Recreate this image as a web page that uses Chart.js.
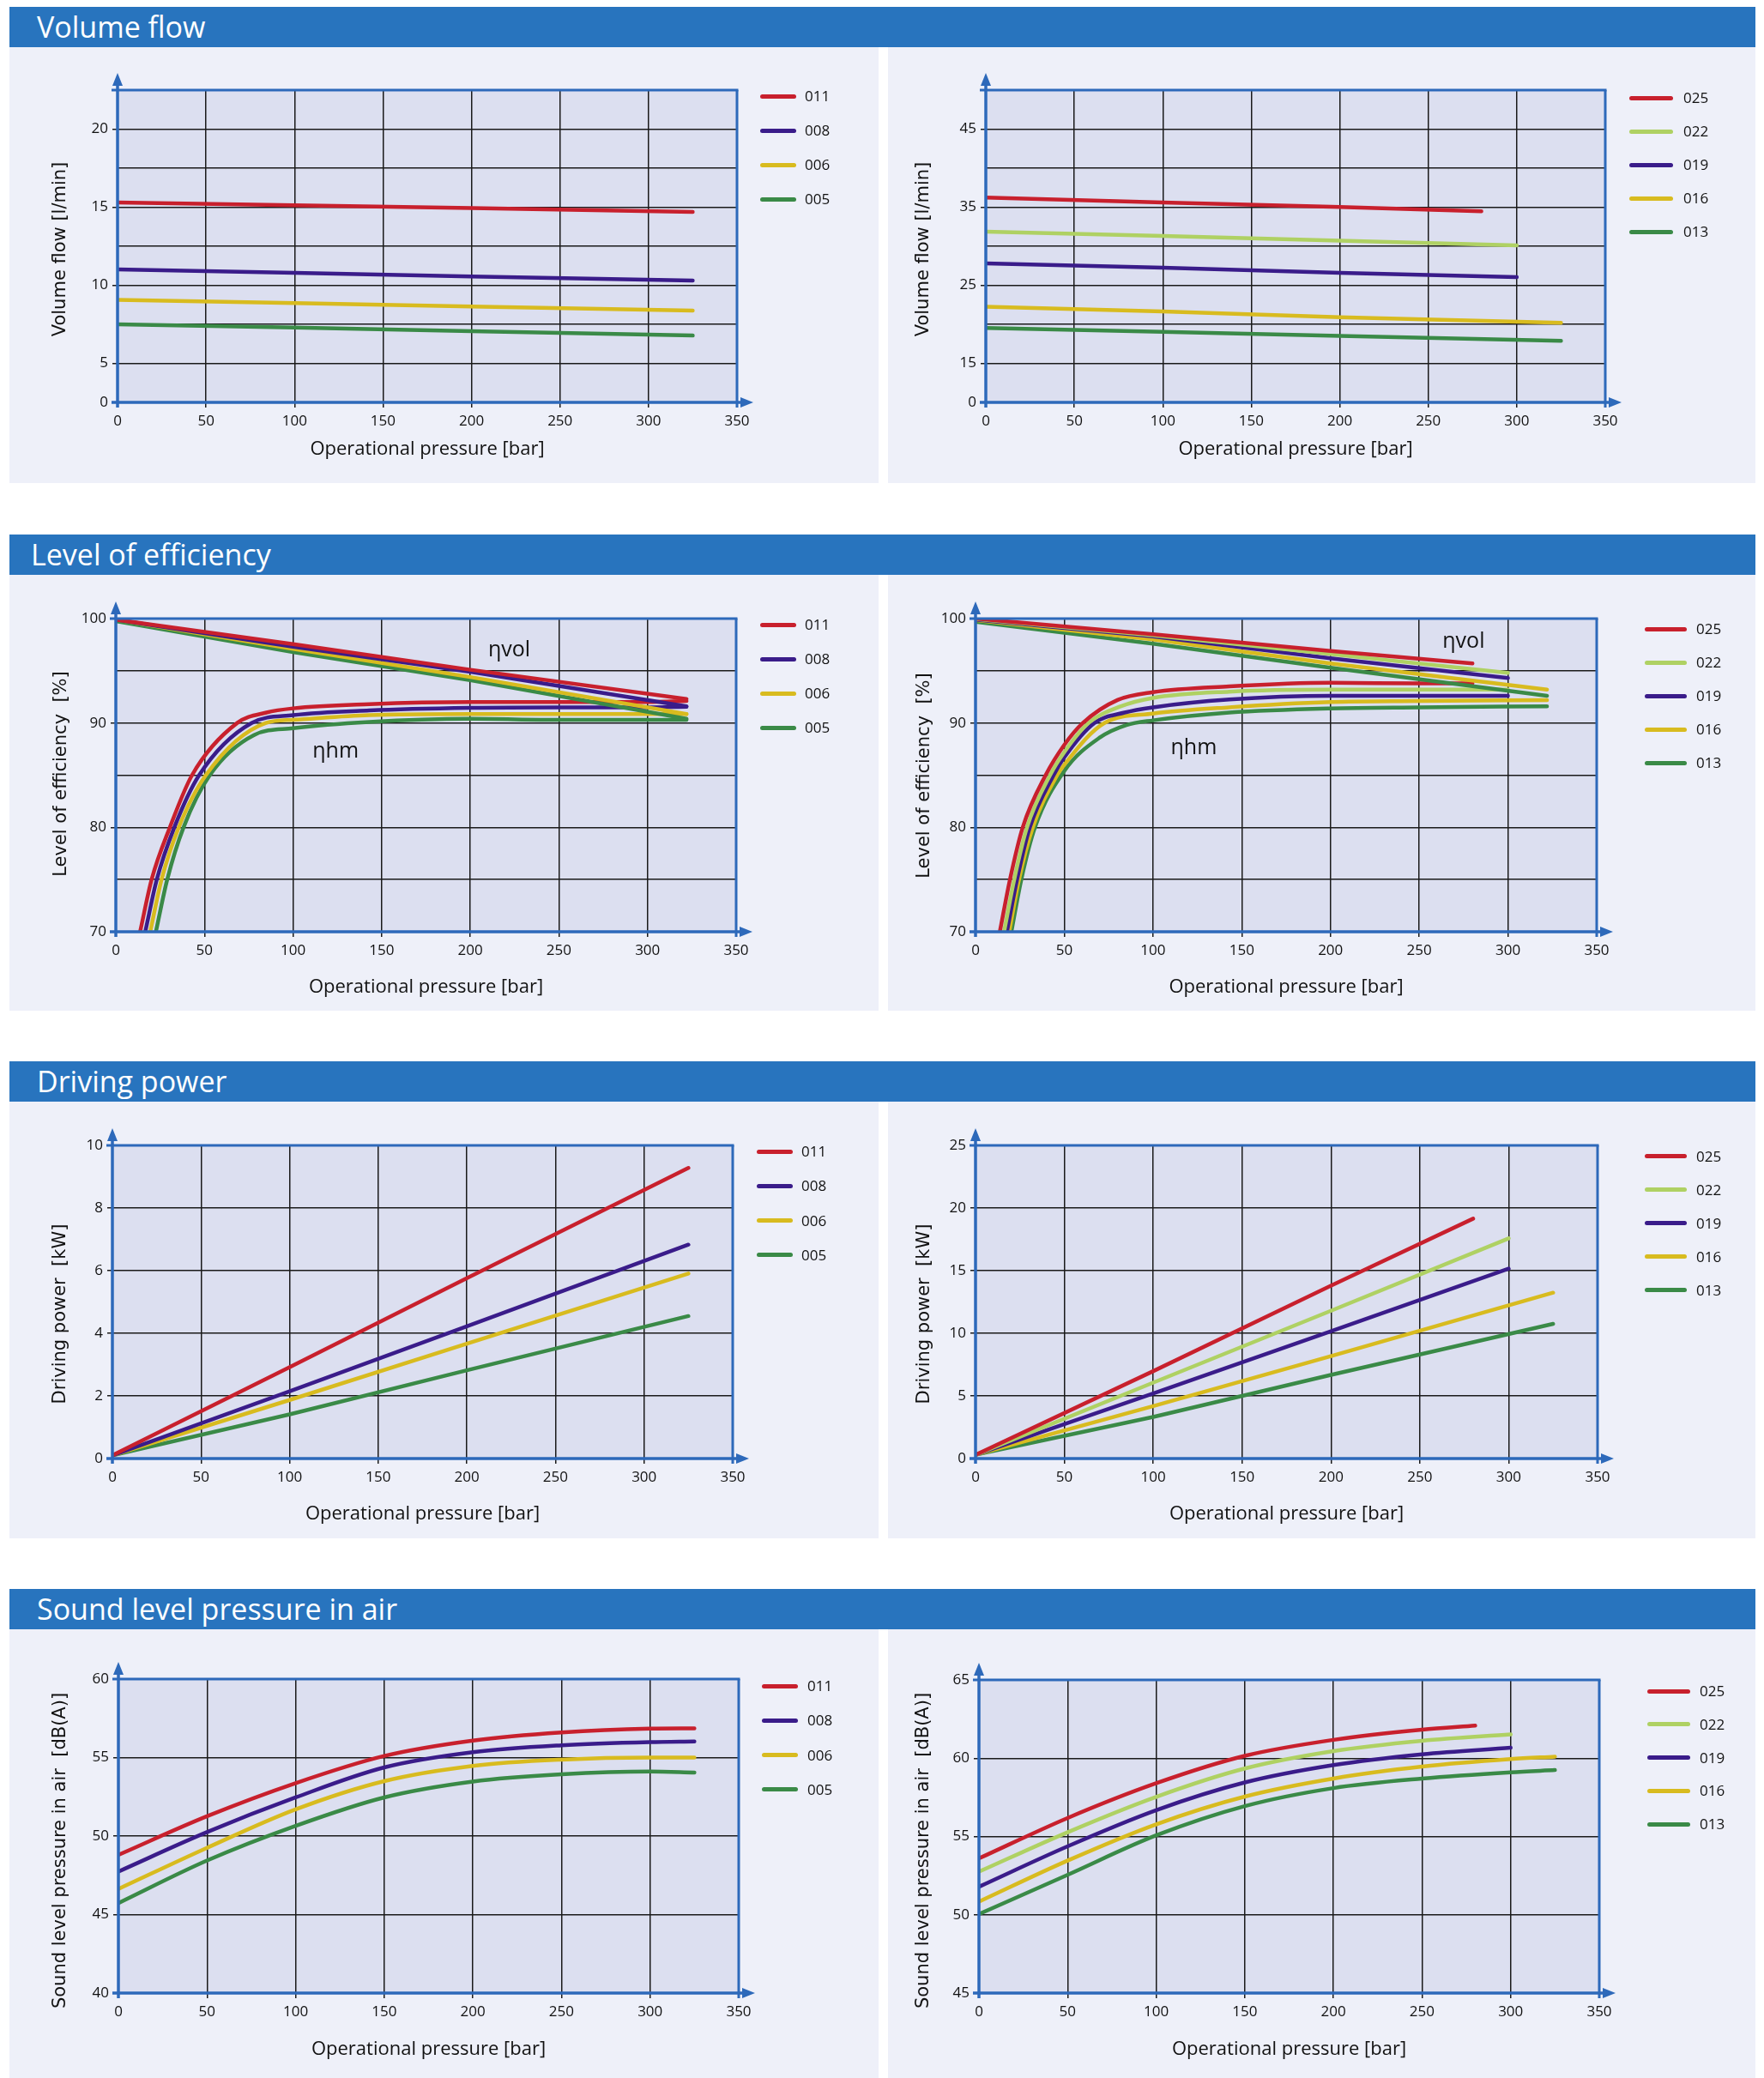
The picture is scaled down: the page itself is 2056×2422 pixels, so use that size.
<!DOCTYPE html>
<html><head><meta charset="utf-8">
<script src="https://cdn.jsdelivr.net/npm/chart.js@4.4.1/dist/chart.umd.min.js"></script>
<style>
html,body{margin:0;padding:0;background:#fff;}
body{width:2056px;height:2422px;position:relative;overflow:hidden;font-family:'Open Sans',sans-serif;}
.hdr{position:absolute;left:11px;width:2035px;height:47px;background:#2874BE;color:#fff;font-size:34px;line-height:47px;box-sizing:border-box;white-space:nowrap;}
.panel{position:absolute;background:#EEF0F9;}
.panel canvas{position:absolute;left:0;top:0;}
.sw{position:absolute;height:5px;border-radius:3px;}
.lt{position:absolute;height:24px;line-height:24px;font-size:17px;color:#111;font-family:'Open Sans',sans-serif;}
</style></head><body>
<script>
// ---------- DATA ----------
const pressureTicks = [0, 50, 100, 150, 200, 250, 300, 350];
const modelsSmall = ['011', '008', '006', '005'];
const modelsLarge = ['025', '022', '019', '016', '013'];
const sectionTitles = ['Volume flow', 'Level of efficiency', 'Driving power', 'Sound level pressure in air'];
const xTitle = 'Operational pressure [bar]';
const yTitles = ['Volume flow [l/min]', 'Level of efficiency  [%]', 'Driving power  [kW]', 'Sound level pressure in air  [dB(A)]'];

// Volume flow [l/min]
const vfSmallYTicks = [2.5, 5, 7.5, 10, 12.5, 15, 17.5, 20, 22.5];
const vfSmallYLabels = ['0', '5', '', '10', '', '15', '', '20', ''];
const vfLargeYTicks = [10, 15, 20, 25, 30, 35, 40, 45, 50];
const vfLargeYLabels = ['0', '15', '', '25', '', '35', '', '45', ''];
const vfSmallX = [0, 100, 200, 325];
const vf011 = [15.3, 15.12, 14.94, 14.7];
const vf008 = [11.02, 10.8, 10.56, 10.3];
const vf006 = [9.06, 8.86, 8.64, 8.38];
const vf005 = [7.5, 7.3, 7.06, 6.78];
const vf025X = [0, 100, 200, 280];
const vf025 = [36.24, 35.6, 35.04, 34.48];
const vf022X = [0, 100, 200, 300];
const vf022 = [31.88, 31.32, 30.72, 30.12];
const vf019X = [0, 100, 200, 300];
const vf019 = [27.8, 27.24, 26.6, 26.04];
const vf016X = [0, 100, 200, 325];
const vf016 = [22.24, 21.64, 20.92, 20.2];
const vf013X = [0, 100, 200, 325];
const vf013 = [19.52, 19.04, 18.52, 17.88];

// Level of efficiency [%]
const effYTicks = [70, 75, 80, 85, 90, 95, 100];
const effYLabels = ['70', '', '80', '', '90', '', '100'];
const effVolSmallX = [0, 100, 200, 322];
const effVol011 = [99.9, 97.55, 95.1, 92.3];
const effVol008 = [99.9, 97.3, 94.9, 91.6];
const effVol006 = [99.9, 97.1, 94.4, 90.85];
const effVol005 = [99.75, 96.8, 94.1, 90.4];
const effHm011X = [13.7, 20.2, 30.5, 43, 68.5, 85, 100, 143, 200, 250, 300, 322];
const effHm011 = [70, 75, 80, 85, 90, 91.0, 91.4, 91.8, 92.0, 92.0, 92.0, 92.1];
const effHm008X = [16.6, 23.1, 33, 47, 76.6, 100, 143, 200, 250, 300, 322];
const effHm008 = [70, 75, 80, 85, 90, 90.75, 91.2, 91.45, 91.5, 91.5, 91.55];
const effHm006X = [19.4, 25.8, 35.5, 50.8, 84.7, 100, 143, 200, 250, 300, 322];
const effHm006 = [70, 75, 80, 85, 90, 90.3, 90.75, 90.85, 90.85, 90.85, 90.85];
const effHm005X = [22.6, 29, 38.2, 53, 78, 100, 143, 200, 250, 300, 322];
const effHm005 = [70, 75, 80, 85, 88.85, 89.5, 90.1, 90.4, 90.3, 90.3, 90.3];

const effVol025X = [0, 100, 200, 280];
const effVol025 = [100, 98.5, 96.9, 95.7];
const effVol022X = [0, 100, 200, 300];
const effVol022 = [99.95, 98.4, 96.6, 94.8];
const effVol019X = [0, 100, 200, 300];
const effVol019 = [99.9, 98.3, 96.2, 94.3];
const effVol016X = [0, 100, 200, 322];
const effVol016 = [99.85, 98.0, 95.7, 93.2];
const effVol013X = [0, 100, 200, 322];
const effVol013 = [99.7, 97.6, 95.3, 92.6];
const effHm025X = [13.7, 19.4, 26.6, 39.5, 50, 60.5, 80, 100, 143, 200, 250, 280];
const effHm025 = [70, 75, 80, 85, 87.9, 90, 92.2, 92.95, 93.5, 93.85, 93.8, 93.8];
const effHm022X = [16.1, 21.8, 29, 42, 50, 63.7, 82, 100, 143, 200, 250, 300];
const effHm022 = [70, 75, 80, 85, 87.2, 90, 91.6, 92.4, 93.0, 93.2, 93.2, 93.2];
const effHm019X = [17.7, 23.4, 30.6, 44, 50, 67, 84, 100, 143, 200, 250, 300];
const effHm019 = [70, 75, 80, 85, 86.7, 90, 91.0, 91.5, 92.25, 92.6, 92.6, 92.6];
const effHm016X = [19, 24.5, 32.3, 46, 50, 72.6, 100, 143, 200, 250, 322];
const effHm016 = [70, 75, 80, 85, 86.0, 90, 90.9, 91.5, 92.0, 92.1, 92.2];
const effHm013X = [20.2, 25.8, 33.5, 50, 70, 85, 100, 143, 200, 250, 322];
const effHm013 = [70, 75, 80, 85.4, 88.6, 89.8, 90.25, 91.0, 91.4, 91.5, 91.6];
const effNotesSmall = [['ηvol', 222, 97.0], ['ηhm', 124, 87.3]];
const effNotesLarge = [['ηvol', 275, 97.8], ['ηhm', 123, 87.6]];

// Driving power [kW]
const dpSmallYTicks = [0, 2, 4, 6, 8, 10];
const dpLargeYTicks = [0, 5, 10, 15, 20, 25];
const dpSmallX = [0, 100, 200, 325];
const dp011 = [0.1, 2.92, 5.76, 9.28];
const dp008 = [0.1, 2.15, 4.22, 6.83];
const dp006 = [0.1, 1.87, 3.67, 5.91];
const dp005 = [0.1, 1.41, 2.82, 4.55];
const dp025X = [0, 100, 200, 280];
const dp025 = [0.3, 6.98, 13.8, 19.15];
const dp022X = [0, 100, 200, 300];
const dp022 = [0.3, 6.06, 11.8, 17.58];
const dp019X = [0, 100, 200, 300];
const dp019 = [0.3, 5.19, 10.17, 15.16];
const dp016X = [0, 100, 200, 325];
const dp016 = [0.3, 4.19, 8.18, 13.24];
const dp013X = [0, 100, 200, 325];
const dp013 = [0.3, 3.32, 6.68, 10.75];

// Sound level pressure in air [dB(A)]
const slSmallYTicks = [40, 45, 50, 55, 60];
const slLargeYTicks = [45, 50, 55, 60, 65];
const slSmallX = [0, 50, 100, 150, 200, 250, 300, 325];
const sl011 = [48.8, 51.26, 53.37, 55.1, 56.08, 56.6, 56.84, 56.86];
const sl008 = [47.74, 50.25, 52.46, 54.37, 55.34, 55.78, 55.98, 56.02];
const sl006 = [46.63, 49.25, 51.7, 53.5, 54.47, 54.87, 55.0, 55.0];
const sl005 = [45.73, 48.44, 50.65, 52.46, 53.47, 53.93, 54.11, 54.05];
const sl025X = [0, 50, 100, 150, 200, 250, 280];
const sl025 = [53.6, 56.18, 58.4, 60.15, 61.17, 61.82, 62.08];
const sl022X = [0, 50, 100, 150, 200, 250, 300];
const sl022 = [52.75, 55.27, 57.53, 59.34, 60.45, 61.11, 61.52];
const sl019X = [0, 50, 100, 150, 200, 250, 300];
const sl019 = [51.79, 54.37, 56.68, 58.45, 59.56, 60.25, 60.67];
const sl016X = [0, 50, 100, 150, 200, 250, 300, 325];
const sl016 = [50.84, 53.46, 55.78, 57.55, 58.7, 59.46, 59.94, 60.1];
const sl013X = [0, 50, 100, 150, 200, 250, 300, 325];
const sl013 = [50.04, 52.55, 55.07, 56.94, 58.09, 58.7, 59.1, 59.24];

// ---------- STYLE ----------
const SERIES_COLOR = {'011':'#C8202D','025':'#C8202D','008':'#3A1C8A','019':'#3A1C8A','006':'#D8BB1F','016':'#D8BB1F','005':'#3A8A47','013':'#3A8A47','022':'#AFD163'};
const AXIS_BLUE = '#2D69BA';
const PLOT_BG = '#DCDFF0';
const GRID = '#1a1a1a';
const Y_TITLE_FONT = '21px "DejaVu Sans", Verdana, sans-serif';
const X_TITLE_FONT = "22px 'Open Sans', sans-serif";
Chart.defaults.font.family = "'Open Sans', sans-serif";

const HEADERS = [{top: 8, pad: 32}, {top: 623, pad: 25}, {top: 1237, pad: 32}, {top: 1852, pad: 32}];
const LAYOUT = [
 {rect:[11,55,1013,508], plot:[137,105,859,469], yT:[71,290.5], xTY:524, lg:{x:886,w:42,tx:938,y:112,dy:40}},
 {rect:[1035,55,1011,508], plot:[1149,105,1871,469], yT:[1077,290.5], xTY:524, lg:{x:1899,w:51,tx:1962,y:114,dy:39}},
 {rect:[11,670,1013,508], plot:[135,721,858,1086], yT:[72,902], xTY:1151, lg:{x:886,w:42,tx:938,y:728,dy:40}},
 {rect:[1035,670,1011,508], plot:[1137,721,1861,1086], yT:[1078,904], xTY:1151, lg:{x:1917,w:49,tx:1977,y:733,dy:39}},
 {rect:[11,1284,1013,509], plot:[131,1335,854,1700], yT:[71,1531.5], xTY:1765, lg:{x:882,w:42,tx:934,y:1342,dy:40.3}},
 {rect:[1035,1284,1011,509], plot:[1137,1335,1862,1700], yT:[1078,1531.5], xTY:1765, lg:{x:1917,w:49,tx:1977,y:1347.5,dy:39}},
 {rect:[11,1899,1013,523], plot:[138,1957,861,2323], yT:[71,2157], xTY:2389, lg:{x:888,w:42,tx:941,y:1965,dy:40.3}},
 {rect:[1035,1899,1011,523], plot:[1141,1958,1864,2323], yT:[1077,2157], xTY:2389, lg:{x:1920,w:50,tx:1981,y:1971,dy:38.8}}
];

function series(model, xs, ys, smooth) {
  return {
    label: model,
    data: xs.map((x, i) => ({x: x, y: ys[i]})),
    borderColor: SERIES_COLOR[model], backgroundColor: SERIES_COLOR[model],
    borderWidth: 4.5, pointRadius: 0, fill: false, tension: 0,
    cubicInterpolationMode: smooth ? 'monotone' : 'default',
    borderCapStyle: 'round', borderJoinStyle: 'round'
  };
}

sectionTitles.forEach((t, i) => {
  const d = document.createElement('div');
  d.className = 'hdr';
  d.style.top = HEADERS[i].top + 'px';
  d.style.paddingLeft = HEADERS[i].pad + 'px';
  d.textContent = t;
  document.body.appendChild(d);
});

function buildChart(L, spec) {
  const [cx, cy, cw, ch] = L.rect;
  const [pl, pt, pr, pb] = L.plot;
  const panel = document.createElement('div');
  panel.className = 'panel';
  Object.assign(panel.style, {left: cx + 'px', top: cy + 'px', width: cw + 'px', height: ch + 'px'});
  document.body.appendChild(panel);
  const canvas = document.createElement('canvas');
  canvas.width = cw; canvas.height = ch;
  canvas.style.width = cw + 'px'; canvas.style.height = ch + 'px';
  panel.appendChild(canvas);

  const yLab = (v) => { const i = spec.yTicks.indexOf(v); return i < 0 ? '' : spec.yLabels[i]; };

  const framePlugin = {
    id: 'frame',
    beforeDraw(chart) {
      const a = chart.chartArea, ctx = chart.ctx;
      ctx.save(); ctx.fillStyle = PLOT_BG;
      ctx.fillRect(a.left, a.top, a.right - a.left, a.bottom - a.top);
      ctx.restore();
    },
    afterDatasetsDraw(chart) {
      const {left, top, right, bottom} = chart.chartArea, ctx = chart.ctx;
      ctx.save();
      ctx.strokeStyle = AXIS_BLUE; ctx.fillStyle = AXIS_BLUE; ctx.lineCap = 'butt';
      const ln = (x1, y1, x2, y2, w) => { ctx.lineWidth = w; ctx.beginPath(); ctx.moveTo(x1, y1); ctx.lineTo(x2, y2); ctx.stroke(); };
      ln(left - 7, top, right + 1.5, top, 3);
      ln(right, top, right, bottom + 6, 3);
      ln(left, bottom + 6, left, top - 8, 3.5);
      ln(left - 7, bottom, right + 6, bottom, 3.5);
      ctx.beginPath(); ctx.moveTo(left, top - 20); ctx.lineTo(left - 6, top - 5); ctx.lineTo(left + 6, top - 5); ctx.closePath(); ctx.fill();
      ctx.beginPath(); ctx.moveTo(right + 19, bottom); ctx.lineTo(right + 4, bottom - 6); ctx.lineTo(right + 4, bottom + 6); ctx.closePath(); ctx.fill();
      ctx.restore();
    },
    afterDraw(chart) {
      const ctx = chart.ctx, a = chart.chartArea;
      ctx.save();
      ctx.fillStyle = '#111';
      ctx.textAlign = 'center'; ctx.textBaseline = 'middle';
      ctx.font = X_TITLE_FONT;
      ctx.fillText(xTitle, (a.left + a.right) / 2, L.xTY - cy);
      ctx.save();
      ctx.translate(L.yT[0] - cx, L.yT[1] - cy);
      ctx.rotate(-Math.PI / 2);
      ctx.font = Y_TITLE_FONT;
      ctx.fillText(spec.yTitle, 0, 0);
      ctx.restore();
      if (spec.notes) {
        ctx.font = "25px 'Open Sans', sans-serif";
        spec.notes.forEach(n => {
          ctx.fillText(n[0], chart.scales.x.getPixelForValue(n[1]), chart.scales.y.getPixelForValue(n[2]));
        });
      }
      ctx.restore();
    }
  };

  new Chart(canvas, {
    type: 'line',
    data: {datasets: spec.datasets},
    options: {
      responsive: false, animation: false, devicePixelRatio: 1,
      layout: {padding: {left: 0, top: pt - cy, right: (cx + cw) - pr, bottom: 0}},
      plugins: {legend: {display: false}, tooltip: {enabled: false}},
      scales: {
        x: {
          type: 'linear', min: 0, max: 350,
          afterFit: (s) => { s.height = (cy + ch) - pb; },
          afterBuildTicks: (s) => { s.ticks = pressureTicks.map(v => ({value: v})); },
          ticks: {color: '#111', font: {size: 17}, padding: 6, maxRotation: 0, autoSkip: false, callback: (v) => String(v)},
          grid: {color: GRID, lineWidth: 1.5, tickLength: 6, drawTicks: true, tickColor: GRID},
          border: {display: false}
        },
        y: {
          type: 'linear', min: spec.yTicks[0], max: spec.yTicks[spec.yTicks.length - 1],
          afterFit: (s) => { s.width = pl - cx; },
          afterBuildTicks: (s) => { s.ticks = spec.yTicks.map(v => ({value: v})); },
          ticks: {color: '#111', font: {size: 17}, padding: 5, autoSkip: false, callback: (v) => yLab(v)},
          grid: {color: GRID, lineWidth: 1.5, tickLength: 6, drawTicks: true,
                 tickColor: (c) => (c.tick && yLab(c.tick.value) !== '') ? GRID : 'rgba(0,0,0,0)'},
          border: {display: false}
        }
      }
    },
    plugins: [framePlugin]
  });

  spec.legend.forEach((m, i) => {
    const y = L.lg.y + i * L.lg.dy;
    const s = document.createElement('div');
    s.className = 'sw';
    Object.assign(s.style, {left: L.lg.x + 'px', top: (y - 2.5) + 'px', width: L.lg.w + 'px', background: SERIES_COLOR[m]});
    document.body.appendChild(s);
    const t = document.createElement('div');
    t.className = 'lt';
    Object.assign(t.style, {left: L.lg.tx + 'px', top: (y - 12) + 'px'});
    t.textContent = m;
    document.body.appendChild(t);
  });
}

const S = (v) => String(v);
const specs = [
  {yTicks: vfSmallYTicks, yLabels: vfSmallYLabels, yTitle: yTitles[0], legend: modelsSmall,
   datasets: [series('011', vfSmallX, vf011), series('008', vfSmallX, vf008), series('006', vfSmallX, vf006), series('005', vfSmallX, vf005)]},
  {yTicks: vfLargeYTicks, yLabels: vfLargeYLabels, yTitle: yTitles[0], legend: modelsLarge,
   datasets: [series('025', vf025X, vf025), series('022', vf022X, vf022), series('019', vf019X, vf019), series('016', vf016X, vf016), series('013', vf013X, vf013)]},
  {yTicks: effYTicks, yLabels: effYLabels, yTitle: yTitles[1], legend: modelsSmall, notes: effNotesSmall,
   datasets: [series('011', effVolSmallX, effVol011), series('008', effVolSmallX, effVol008), series('006', effVolSmallX, effVol006), series('005', effVolSmallX, effVol005),
              series('011', effHm011X, effHm011, true), series('008', effHm008X, effHm008, true), series('006', effHm006X, effHm006, true), series('005', effHm005X, effHm005, true)]},
  {yTicks: effYTicks, yLabels: effYLabels, yTitle: yTitles[1], legend: modelsLarge, notes: effNotesLarge,
   datasets: [series('025', effVol025X, effVol025), series('022', effVol022X, effVol022), series('019', effVol019X, effVol019), series('016', effVol016X, effVol016), series('013', effVol013X, effVol013),
              series('025', effHm025X, effHm025, true), series('022', effHm022X, effHm022, true), series('019', effHm019X, effHm019, true), series('016', effHm016X, effHm016, true), series('013', effHm013X, effHm013, true)]},
  {yTicks: dpSmallYTicks, yLabels: dpSmallYTicks.map(S), yTitle: yTitles[2], legend: modelsSmall,
   datasets: [series('011', dpSmallX, dp011), series('008', dpSmallX, dp008), series('006', dpSmallX, dp006), series('005', dpSmallX, dp005)]},
  {yTicks: dpLargeYTicks, yLabels: dpLargeYTicks.map(S), yTitle: yTitles[2], legend: modelsLarge,
   datasets: [series('025', dp025X, dp025), series('022', dp022X, dp022), series('019', dp019X, dp019), series('016', dp016X, dp016), series('013', dp013X, dp013)]},
  {yTicks: slSmallYTicks, yLabels: slSmallYTicks.map(S), yTitle: yTitles[3], legend: modelsSmall,
   datasets: [series('011', slSmallX, sl011, true), series('008', slSmallX, sl008, true), series('006', slSmallX, sl006, true), series('005', slSmallX, sl005, true)]},
  {yTicks: slLargeYTicks, yLabels: slLargeYTicks.map(S), yTitle: yTitles[3], legend: modelsLarge,
   datasets: [series('025', sl025X, sl025, true), series('022', sl022X, sl022, true), series('019', sl019X, sl019, true), series('016', sl016X, sl016, true), series('013', sl013X, sl013, true)]}
];
specs.forEach((sp, i) => buildChart(LAYOUT[i], sp));
</script>
</body></html>
